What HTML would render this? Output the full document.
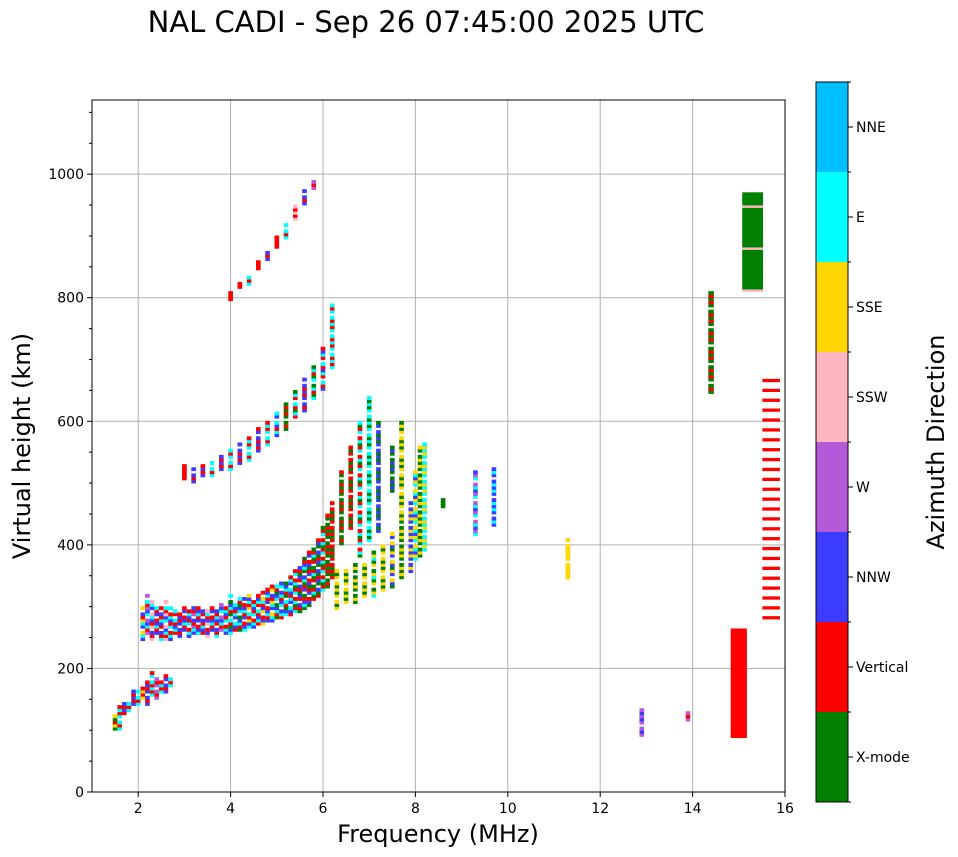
<!DOCTYPE html>
<html><head><meta charset="utf-8"><style>
body{margin:0;background:#fff;font-family:"DejaVu Sans","Liberation Sans",sans-serif;}
svg{display:block}
</style></head><body>
<svg id="chart" width="958" height="857" xmlns="http://www.w3.org/2000/svg" font-family="DejaVu Sans, Liberation Sans, sans-serif">
<text x="426" y="32" font-size="29" text-anchor="middle">NAL CADI - Sep 26 07:45:00 2025 UTC</text>
<g id="plot"></g>
<g id="axes"></g>
<g id="cbar"></g>
</svg>
<script>
// direction categories (colorbar order, bottom to top)
const dirNames = ["X-mode","Vertical","NNW","W","SSW","SSE","E","NNE"];
const dirCodes = ["G","R","B","W","P","S","C","N"];
const dirColors = ["#008000","#ff0000","#3c3cff","#b45ad8","#ffb6c1","#ffd700","#00ffff","#00bfff"];
const xTicks = [2,4,6,8,10,12,14,16];
const yTicks = [0,200,400,600,800,1000];
// echo columns: frequency (MHz), lower/upper virtual height (km), direction codes
const colF  = [1.5,1.6,1.7,1.8,1.9,2.0,2.1,2.2,2.3,2.4,2.5,2.6,2.7,
 2.1,2.2,2.3,2.4,2.5,2.6,2.7,2.8,2.9,3.0,3.1,3.2,3.3,3.4,3.5,3.6,3.7,3.8,3.9,4.0,4.1,4.2,4.3,4.4,4.5,4.6,4.7,4.8,4.9,5.0,5.1,5.2,5.3,5.4,5.5,5.6,5.7,5.8,5.9,6.0,6.1,6.2,
 6.3,6.5,6.7,6.9,7.1,7.3,7.5,7.7,7.9,8.0,8.1,8.2,
 6.4,6.6,6.8,7.0,7.2,7.5,7.7,
 3.0,3.2,3.4,3.6,3.8,4.0,4.2,4.4,4.6,4.8,5.0,5.2,5.4,5.6,5.8,6.0,6.2,
 4.0,4.2,4.4,4.6,4.8,5.0,5.2,5.4,5.6,5.8,
 8.6,9.3,9.7,11.3,12.9,13.9,14.4,15.0,15.3,15.7];
const colLo = [95,100,120,130,135,140,145,140,150,150,155,160,165,
 245,250,245,250,245,240,245,250,250,255,250,250,255,250,250,255,250,255,255,250,260,255,260,260,265,265,270,270,275,275,280,280,285,285,290,290,300,305,315,320,330,340,
 295,300,305,310,315,320,330,340,355,370,380,385,
 400,420,380,400,420,480,440,
 500,500,505,510,515,520,525,535,545,560,570,585,600,615,630,650,680,
 795,810,820,840,860,875,895,920,950,970,
 460,410,430,340,90,110,645,88,810,280];
const colHi = [125,140,145,150,165,165,170,180,195,185,180,190,185,
 300,320,310,300,300,310,300,295,290,300,295,300,300,295,300,300,300,305,300,320,310,315,315,320,315,320,325,330,335,335,340,345,350,360,370,380,390,395,410,430,450,470,
 360,365,370,375,390,400,420,440,470,520,560,570,
 520,560,600,640,600,560,600,
 530,525,530,535,545,555,565,575,590,600,615,630,650,670,690,720,790,
 810,825,840,860,880,900,920,950,975,990,
 480,520,525,410,135,130,815,262,970,680];
const colDir = ["RGS","RC","BR","RC","RB","RC","RS","RB","RC","RW","RC","RB","RC",
 "RBCS","RCBW","RBCP","RCB","RBC","RCBP","RBC","RCB","RB","RCB","CRB","RBCW","RCB","RBC","BRCP","RCB","RBC","RCBW","RBC","RCBG","RBC","RCBG","BRC","RCBS","RBC","RCB","BRCS","RCB","RBCS","RCBG","BRC","RCBG","RBC","RGC","RBG","RGCB","RGB","RGC","RGB","RGC","RG","GR",
 "GS","GS","SG","GS","SGC","GS","SGB","SG","SB","SBC","SG","SC",
 "RG","GR","GCR","GC","GB","BG","GS",
 "R","RB","RB","RC","RB","RC","RB","RC","RB","RC","RBC","RG","RCG","RB","GRC","RCB","RC",
 "R","R","RC","R","RB","R","RC","RP","RB","RW",
 "G","BCW","CB","S","BW","RW","RG","R","G","R"];
const colW = [];
for(let i=0;i<colF.length;i++) colW.push(0.1);
colW[colF.length-4]=0.12; colW[colF.length-3]=0.35; colW[colF.length-2]=0.45; colW[colF.length-1]=0.38;

const L=92,R=785,T=100,B=792, xMin=1,xMax=16,yMin=0,yMax=1120;
const xs=f=>L+(f-xMin)/(xMax-xMin)*(R-L);
const ys=h=>B-(h-yMin)/(yMax-yMin)*(B-T);
const NS="http://www.w3.org/2000/svg";
const mk=(t,a,p)=>{const e=document.createElementNS(NS,t);for(const k in a)e.setAttribute(k,a[k]);p.appendChild(e);return e;};
const axes=document.getElementById('axes'), plot=document.getElementById('plot'), cbar=document.getElementById('cbar');

// grid
xTicks.forEach(v=>{const g=mk('line',{x1:xs(v),x2:xs(v),y1:T,y2:B,stroke:'#b0b0b0','stroke-width':1},plot);

});
yTicks.forEach(v=>{const g=mk('line',{x1:L,x2:R,y1:ys(v),y2:ys(v),stroke:'#b0b0b0','stroke-width':1},plot);

});

// echoes
const nCol=colF.length;
for(let c=0;c<nCol;c++){
  const codes=colDir[c], w=colW[c], wide=w>0.2;
  const step=wide?4:5;
  for(let h=colLo[c],i=0;h<colHi[c];h+=step,i++){
    if(!wide && (i*7+c*3)%6===0) continue;
    let code=codes[(i+c)%codes.length];
    if(c===nCol-2 && (i%17===0)) code='P';
    if(c===nCol-1 && (i%4!==0)) continue;
    const di=dirCodes.indexOf(code);
    const x0=xs(colF[c]-w/2), x1=xs(colF[c]+w/2);
    const r=mk('rect',{x:x0,y:ys(h+step)-0.4,width:x1-x0,height:ys(h)-ys(h+step)+0.8,fill:dirColors[di]},plot);
    
    
  }
}

// frame
const fr=mk('rect',{x:L,y:T,width:R-L,height:B-T,fill:'none',stroke:'#000','stroke-width':1},axes);


xTicks.forEach(v=>{mk('line',{x1:xs(v),x2:xs(v),y1:B,y2:B+5,stroke:'#000'},axes);
const t=mk('text',{x:xs(v),y:B+21,'font-size':14,'text-anchor':'middle'},axes);t.textContent=v;

});
for(let v=0;v<=1100;v+=50){mk('line',{x1:L,x2:L-(v%200===0?5:3),y1:ys(v),y2:ys(v),stroke:'#000'},axes);}
yTicks.forEach(v=>{const t=mk('text',{x:L-8,y:ys(v)+5,'font-size':14,'text-anchor':'end'},axes);t.textContent=v;

});
const xl=mk('text',{x:438,y:842,'font-size':24,'text-anchor':'middle'},axes);xl.textContent='Frequency (MHz)';


const yl=mk('text',{x:0,y:0,'font-size':24,'text-anchor':'middle',transform:'translate(30,446) rotate(-90)'},axes);yl.textContent='Virtual height (km)';



// colorbar
const cT=82,cB=802,cL=816,cR=848,seg=(cB-cT)/dirNames.length;
dirNames.forEach((n,i)=>{
  const y0=cB-(i+1)*seg;
  const r=mk('rect',{x:cL,y:y0,width:cR-cL,height:seg,fill:dirColors[i]},cbar);
  
  
  mk('line',{x1:cR,x2:cR+5,y1:y0+seg/2,y2:y0+seg/2,stroke:'#000'},cbar);
  const t=mk('text',{x:cR+8,y:y0+seg/2+5,'font-size':14},cbar);t.textContent=n;
  
  
});
for(let i=0;i<=dirNames.length;i++){mk('line',{x1:cR,x2:cR+3,y1:cT+i*seg,y2:cT+i*seg,stroke:'#000'},cbar);}
mk('rect',{x:cL,y:cT,width:cR-cL,height:cB-cT,fill:'none',stroke:'#000'},cbar);
const ct=mk('text',{x:0,y:0,'font-size':24,'text-anchor':'middle',transform:'translate(944,442) rotate(-90)'},cbar);ct.textContent='Azimuth Direction';


</script>
</body></html>
